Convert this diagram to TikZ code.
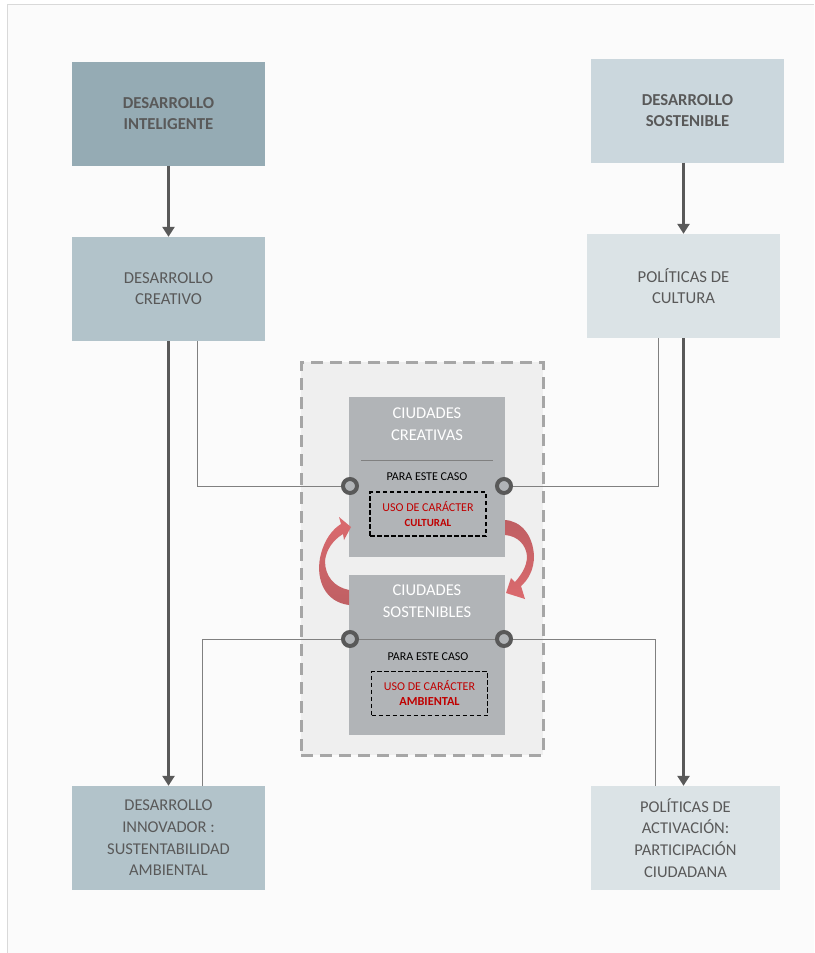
\documentclass[tikz,border=0pt]{standalone}
\usepackage{fontspec}
\setmainfont{Carlito}
\usetikzlibrary{arrows.meta}
\definecolor{cA}{HTML}{95ABB4}
\definecolor{cB}{HTML}{CBD7DD}
\definecolor{cC}{HTML}{B2C3CA}
\definecolor{cD}{HTML}{DBE3E6}
\definecolor{txt}{HTML}{595959}
\definecolor{ing}{HTML}{B1B4B7}
\definecolor{outerf}{HTML}{EFEFEF}
\definecolor{outerd}{HTML}{A6A6A6}
\definecolor{ringc}{HTML}{595959}
\definecolor{conc}{HTML}{808080}
\definecolor{redt}{HTML}{C00000}
\definecolor{redlt}{HTML}{DB6A6E}
\definecolor{reddk}{HTML}{BF5F63}
\tikzset{
  bigbox/.style={rectangle, minimum width=193pt, minimum height=104pt, inner sep=2pt, align=center, text=txt, font=\fontsize{16.7}{21}\selectfont},
  inbox/.style={rectangle, fill=ing, minimum width=156pt, minimum height=160pt, inner sep=0pt},
  ring/.style={circle, draw=ringc, line width=4pt, fill=ing, minimum size=14pt, inner sep=0pt},
  conn/.style={draw=conc, line width=0.9pt},
  bigarrow/.style={draw=txt, line width=3pt, -{Triangle[width=12pt,length=10pt]}},
  dbox/.style={rectangle, draw=black, line width=1.8pt, dash pattern=on 4.5pt off 2.5pt, minimum width=116pt, minimum height=44pt, inner sep=0pt},
}
\begin{document}
\begin{tikzpicture}[x=1pt,y=-1pt]
\useasboundingbox (0,0) rectangle (814,953);
\fill[white] (0,0) rectangle (814,953);
\fill[white!98.5!black] (7,4) rectangle (814,953);
\draw[black!15, line width=1pt] (7,953) -- (7,4) -- (814,4);

% big boxes
\node[bigbox, fill=cA, font=\fontsize{16.7}{21}\selectfont\bfseries] (di) at (168.5,113.5) {DESARROLLO\\INTELIGENTE};
\node[bigbox, fill=cB, font=\fontsize{16.7}{21}\selectfont\bfseries] (ds) at (687.5,110.5) {DESARROLLO\\SOSTENIBLE};
\node[bigbox, fill=cC] (dc) at (168.5,289) {DESARROLLO\\CREATIVO};
\node[bigbox, fill=cD] (pc) at (683.5,286) {POLÍTICAS DE\\CULTURA};
\node[bigbox, fill=cC, font=\fontsize{16.5}{21.7}\selectfont] (dn) at (168.5,838) {DESARROLLO\\INNOVADOR :\\SUSTENTABILIDAD\\AMBIENTAL};
\node[bigbox, fill=cD, minimum width=189pt, font=\fontsize{16.5}{21.7}\selectfont] (pa) at (685.5,838) {POLÍTICAS DE\\ACTIVACIÓN:\\PARTICIPACIÓN\\CIUDADANA};

% central dashed area
\node[rectangle, fill=outerf, draw=outerd, line width=3pt, dash pattern=on 12pt off 7pt, minimum width=242pt, minimum height=393pt] (outer) at (422,558.5) {};
\node[inbox] (cc) at (427,477) {};
\node[inbox] (cs) at (427,655) {};

% top inner box texts
\node[text=white, align=center, font=\fontsize{16.5}{22}\selectfont] (tcc) at (427,424) {CIUDADES\\CREATIVAS};
\draw[draw=conc, line width=0.6pt] (361,460) -- (493,460);
\node[text=black, font=\fontsize{12}{14}\selectfont] (p1) at (427,476.5) {PARA ESTE CASO};
\node[dbox] (d1) at (428,514) {};
\node[text=redt, align=center, font=\fontsize{12}{15}\selectfont] (u1) at (428,507) {USO DE CARÁCTER};
\node[text=redt, font=\fontsize{10.9}{12}\selectfont\bfseries] (u1b) at (428,522.5) {CULTURAL};

% bottom inner box texts
\node[text=white, align=center, font=\fontsize{16.5}{22}\selectfont] (tcs) at (427,601.5) {CIUDADES\\SOSTENIBLES};
\node[text=black, font=\fontsize{12}{14}\selectfont] (p2) at (428,656.5) {PARA ESTE CASO};
\node[dbox] (d2) at (429.5,693.5) {};
\node[text=redt, font=\fontsize{12}{15}\selectfont] (u2) at (429.5,686) {USO DE CARÁCTER};
\node[text=redt, font=\fontsize{12.3}{14}\selectfont\bfseries] (u2b) at (429.5,701.5) {AMBIENTAL};

% rings
\node[ring] (r1) at (350,486) {};
\node[ring] (r2) at (504,486) {};
\node[ring] (r3) at (350,639) {};
\node[ring] (r4) at (504,639) {};
\draw[draw=conc, line width=0.9pt] (r3.east) -- (r4.west);

% thin connectors
\draw[conn] (dc.south) ++(28.5,0) |- (r1.west);
\draw[conn] (pc.south) ++(-25.5,0) |- (r2.east);
\draw[conn] (dn.north) ++(33.5,0) |- (r3.west);
\draw[conn] (pa.north) ++(-30.5,0) |- (r4.east);

% thick arrows
\draw[bigarrow] (di) -- (dc);
\draw[bigarrow] (ds.south -| pc) -- (pc.north);
\draw[bigarrow] (dc) -- (dn);
\draw[bigarrow] (pc.south) -- (pa.north -| pc.south);

% red curved arrows (filled shapes)
\shade[top color=redlt, bottom color=reddk]
  (349,605) .. controls (325,602) and (316,580) .. (320,558)
  .. controls (324,539) and (333,529) .. (341,524)
  -- (339,517) -- (351,527) -- (344,540) -- (343,534)
  .. controls (333,540) and (326,550) .. (325,561)
  .. controls (325,576) and (334,587) .. (349,590) -- cycle;
\shade[top color=reddk, bottom color=redlt]
  (505,520) .. controls (521,521) and (533,535) .. (534,556)
  .. controls (534,570) and (528,580) .. (521,586)
  -- (525,599) -- (506,593) -- (511,578) -- (515,582)
  .. controls (522,574) and (527,566) .. (527,556)
  .. controls (526,545) and (518,536) .. (505,535) -- cycle;
\end{tikzpicture}
\end{document}
